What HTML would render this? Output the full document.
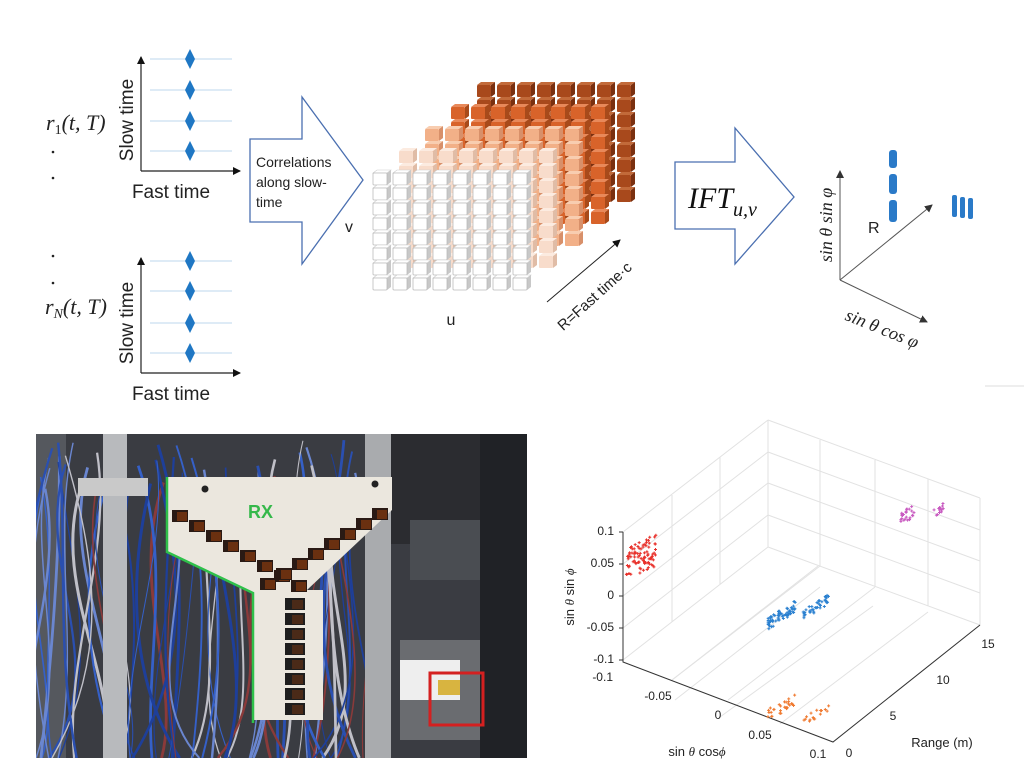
<!DOCTYPE html>
<html><head><meta charset="utf-8"><style>
html,body{margin:0;padding:0;background:#fff;width:1024px;height:784px;overflow:hidden}
svg{display:block}
text{font-family:"Liberation Sans",sans-serif}
.serif{font-family:"Liberation Serif","DejaVu Serif",serif;font-style:italic}
</style></head><body>
<svg id="s" width="1024" height="784" viewBox="0 0 1024 784" xmlns="http://www.w3.org/2000/svg">
<defs>
<marker id="ah" markerWidth="8" markerHeight="8" refX="7" refY="4" orient="auto" markerUnits="userSpaceOnUse"><path d="M0,0 L8,4 L0,8 z" fill="#111"/></marker>
<marker id="ag" markerWidth="8" markerHeight="8" refX="7" refY="4" orient="auto" markerUnits="userSpaceOnUse"><path d="M0,0 L8,4 L0,8 z" fill="#333"/></marker>
<clipPath id="pc"><rect x="36" y="434" width="491" height="324"/></clipPath>
</defs>

<g stroke="#bcd7ee" stroke-width="1">
<line x1="150" y1="59" x2="232" y2="59"/><line x1="150" y1="90" x2="232" y2="90"/><line x1="150" y1="121" x2="232" y2="121"/><line x1="150" y1="151" x2="232" y2="151"/>
<line x1="150" y1="261" x2="232" y2="261"/><line x1="150" y1="291" x2="232" y2="291"/><line x1="150" y1="323" x2="232" y2="323"/><line x1="150" y1="353" x2="232" y2="353"/>
</g>
<g fill="#1f77c4">
<path d="M190,49 L195,59 L190,69 L185,59z"/><path d="M190,80 L195,90 L190,100 L185,90z"/><path d="M190,111 L195,121 L190,131 L185,121z"/><path d="M190,141 L195,151 L190,161 L185,151z"/>
<path d="M190,251 L195,261 L190,271 L185,261z"/><path d="M190,281 L195,291 L190,301 L185,291z"/><path d="M190,313 L195,323 L190,333 L185,323z"/><path d="M190,343 L195,353 L190,363 L185,353z"/>
</g>
<g stroke="#222" stroke-width="1.2" fill="none">
<path d="M141,171 V57" marker-end="url(#ah)"/><path d="M141,171 H240" marker-end="url(#ah)"/>
<path d="M141,373 V258" marker-end="url(#ah)"/><path d="M141,373 H240" marker-end="url(#ah)"/>
</g>
<text x="127" y="120" font-size="19" fill="#222" text-anchor="middle" transform="rotate(-90 127 120)" dy="6">Slow time</text>
<text x="127" y="323" font-size="19" fill="#222" text-anchor="middle" transform="rotate(-90 127 323)" dy="6">Slow time</text>
<text x="171" y="198" font-size="19" fill="#222" text-anchor="middle">Fast time</text>
<text x="171" y="400" font-size="19" fill="#222" text-anchor="middle">Fast time</text>
<text x="46" y="130" font-size="22" class="serif" fill="#222">r<tspan font-size="14" dy="4" font-style="normal">1</tspan><tspan dy="-4">(t, T)</tspan></text>
<text x="45" y="314" font-size="22" class="serif" fill="#222">r<tspan font-size="14" dy="4">N</tspan><tspan dy="-4">(t, T)</tspan></text>
<g fill="#222"><circle cx="53" cy="152" r="1.3"/><circle cx="53" cy="178" r="1.3"/><circle cx="53" cy="256" r="1.3"/><circle cx="53" cy="283" r="1.3"/></g>

<polygon points="250,139 302,139 302,97 363,180 302,264 302,222 250,222" fill="#fff" stroke="#4a6fb0" stroke-width="1.3"/>
<text font-size="14" fill="#222"><tspan x="256" y="167">Correlations</tspan><tspan x="256" y="187">along slow-</tspan><tspan x="256" y="207">time</tspan></text>
<text x="345" y="232" font-size="16" fill="#222">v</text>

<g id="cube"></g>
<text x="451" y="325" font-size="16" fill="#222" text-anchor="middle">u</text>
<path d="M547,302 L620,240" stroke="#222" stroke-width="1" marker-end="url(#ah)"/>
<text x="598" y="300" font-size="15" fill="#222" text-anchor="middle" transform="rotate(-42 598 300)">R=Fast time·c</text>

<polygon points="675,162 735,162 735,128 794,197 735,264 735,229 675,229" fill="#fff" stroke="#4a6fb0" stroke-width="1.3"/>
<text x="688" y="208" font-size="30" class="serif" fill="#111">IFT<tspan font-size="20" dy="8">u,v</tspan></text>

<g stroke="#555" stroke-width="1" fill="none">
<path d="M840,280 V171" marker-end="url(#ag)"/><path d="M840,280 L932,205" marker-end="url(#ag)"/><path d="M840,280 L927,322" marker-end="url(#ag)"/>
</g>
<text x="826" y="225" font-size="18" class="serif" fill="#222" text-anchor="middle" transform="rotate(-90 826 225)" dy="6">sin θ sin φ</text>
<text x="868" y="233" font-size="16" fill="#222">R</text>
<text x="880" y="334" font-size="18" class="serif" fill="#222" text-anchor="middle" transform="rotate(22 880 334)">sin θ cos φ</text>
<g fill="#2a7ac8">
<rect x="889" y="150" width="8" height="18" rx="3"/><rect x="889" y="174" width="8" height="20" rx="3"/><rect x="889" y="200" width="8" height="22" rx="3"/>
<rect x="952" y="195" width="5" height="22" rx="2"/><rect x="960" y="197" width="5" height="21" rx="2"/><rect x="968" y="198" width="5" height="21" rx="2"/>
</g>
<line x1="985" y1="386" x2="1024" y2="386" stroke="#ddd"/>

<g clip-path="url(#pc)">
<rect x="36" y="434" width="491" height="324" fill="#3a3c42"/>
<rect x="36" y="434" width="30" height="324" fill="#55585e"/>
<rect x="370" y="434" width="157" height="110" fill="#2b2c30"/>
<rect x="410" y="520" width="110" height="60" fill="#4a4d52"/>
<rect x="400" y="640" width="127" height="100" fill="#6a6c70"/>
<rect x="480" y="434" width="47" height="324" fill="#202226"/>
<g id="cables" fill="none" stroke-width="2"></g>
<rect x="103" y="434" width="24" height="324" fill="#b8babd"/>
<rect x="365" y="434" width="26" height="324" fill="#a9abae"/>
<rect x="78" y="478" width="70" height="18" fill="#c9c9c9"/>
<polygon points="167,477 392,477 392,510 307,590 323,590 323,720 253,720 253,593 167,552" fill="#ebe7de"/>
<polyline points="167,477 167,552 253,593 253,723" fill="none" stroke="#2fc04a" stroke-width="2.5"/>
<circle cx="205" cy="489" r="3.5" fill="#222"/><circle cx="375" cy="484" r="3.5" fill="#222"/>
<text x="248" y="518" font-size="18" font-weight="bold" fill="#35b84a">RX</text>
<g id="horns"></g>
<rect x="400" y="660" width="60" height="40" fill="#eee"/>
<rect x="438" y="680" width="22" height="15" fill="#d8b440"/>
<rect x="430" y="673" width="53" height="52" fill="none" stroke="#d42020" stroke-width="3"/>
</g>

<g stroke="#e2e2e2" stroke-width="1" fill="none" id="grid">
<path d="M768,420 V547 M768,547 L980,625 M768,547 L623,660 M768,420 L623,532 M768,420 L980,498 M980,498 V625"/>
<path d="M820,440 V566 M875,460 V587 M928,479 V606 M720,457 V584 M672,495 V622"/>
<path d="M768,452 L980,530 M768,483 L980,561 M768,515 L980,593"/>
<path d="M768,452 L623,564 M768,483 L623,596 M768,515 L623,628"/>
<path d="M675,700 L820,587 M720,717 L873,606 M780,724 L928,612 M672,680 L818,566"/>
<path d="M820,566 L672,680 M875,587 L728,700"/>
</g>
<g stroke="#333" stroke-width="1" fill="none">
<path d="M623,532 V662 L833,742 L980,625"/>
<path d="M623,532 h-4 M623,564 h-4 M623,596 h-4 M623,628 h-4 M623,660 h-4"/>
</g>
<g font-size="12" fill="#222" text-anchor="end">
<text x="614" y="535">0.1</text><text x="614" y="567">0.05</text><text x="614" y="599">0</text><text x="614" y="631">-0.05</text><text x="614" y="663">-0.1</text>
<text x="613" y="681">-0.1</text>
</g>
<g font-size="12" fill="#222" text-anchor="middle">
<text x="658" y="700">-0.05</text><text x="718" y="719">0</text><text x="760" y="739">0.05</text><text x="818" y="758">0.1</text>
<text x="849" y="757">0</text><text x="893" y="720">5</text><text x="943" y="684">10</text><text x="988" y="648">15</text>
<text x="942" y="747" font-size="13">Range (m)</text>
<text x="697" y="756" font-size="13">sin <tspan class="serif">θ</tspan> cos<tspan class="serif">ϕ</tspan></text>
<text x="574" y="597" font-size="13" transform="rotate(-90 574 597)">sin <tspan class="serif">θ</tspan> sin <tspan class="serif">ϕ</tspan></text>
</g>
<g id="pts" stroke-width="1"></g>
</svg>
<script>
var NS="http://www.w3.org/2000/svg";
function el(t,a,p){var e=document.createElementNS(NS,t);for(var k in a)e.setAttribute(k,a[k]);p.appendChild(e);return e;}
var seed=7;function rnd(){seed=(seed*16807)%2147483647;return seed/2147483647;}
var cg=document.getElementById('cube');
var layers=[["#a8491c","#c26a3a","#7a3010"],["#d8632a","#e8895a","#a84a1a"],["#f2b088","#f8cdb0","#d8906a"],["#f8dccb","#fcebe0","#e0bca6"],["#ffffff","#ffffff","#c8c8c8"]];
for(var L=0;L<5;L++){var k=4-L;var ox=373+26*k,oy=173-22*k;var c=layers[L];
for(var r=0;r<8;r++)for(var q=0;q<8;q++){var x=ox+q*20,y=oy+r*15;
el('path',{d:'M'+(x+14)+','+y+' l4,-3 v12 l-4,3z',fill:c[2]},cg);
el('path',{d:'M'+x+','+y+' l4,-3 h14 l-4,3z',fill:c[1],stroke:L==4?'#ccc':'none','stroke-width':0.6},cg);
el('rect',{x:x,y:y,width:14,height:12,fill:c[0],stroke:L==4?'#bbb':'none','stroke-width':0.8,rx:1},cg);}}
var cb=document.getElementById('cables');
var cols=["#2a4fb0","#3560c8","#1e3f9a","#6a86d0","#8a3a3a","#c0c0c8"];
for(var i=0;i<70;i++){var x=40+rnd()*330,y=440+rnd()*60;var col=cols[Math.floor(rnd()*cols.length)];
el('path',{d:'M'+x+','+y+' C'+(x+rnd()*80-40)+','+(y+100)+' '+(x+rnd()*100-50)+','+(y+200)+' '+(x+rnd()*60-30)+',758',stroke:col,'stroke-width':1+rnd()*2},cb);}
var hg=document.getElementById('horns');
for(var i=0;i<8;i++){var x=172+i*17,y=510+i*10;el('rect',{x:x,y:y,width:16,height:12,fill:'#2a1a14'},hg);el('rect',{x:x+5,y:y+2,width:10,height:9,fill:'#6a3010'},hg);}
for(var i=0;i<8;i++){var x=372-i*16,y=508+i*10;el('rect',{x:x,y:y,width:16,height:12,fill:'#2a1a14'},hg);el('rect',{x:x+5,y:y+2,width:10,height:9,fill:'#6a3010'},hg);}
for(var i=0;i<8;i++){var x=285,y=598+i*15;el('rect',{x:x,y:y,width:20,height:12,fill:'#1e1e1e'},hg);el('rect',{x:x+7,y:y+2,width:11,height:9,fill:'#4a2a18'},hg);}
var pg=document.getElementById('pts');
function cl(x0,y0,w,h,n,col,sl){for(var i=0;i<n;i++){var a=rnd(),b=rnd();var x=x0+a*w,y=y0+b*h-a*sl;
el('path',{d:'M'+(x-1.5)+','+y+'h3M'+x+','+(y-1.5)+'v3',stroke:col},pg);}}
cl(626,548,30,32,90,"#e8302a",14);
cl(900,513,14,14,25,"#c85ac0",8);cl(934,507,10,10,14,"#c85ac0",6);
cl(768,618,28,12,70,"#2a80d0",18);cl(803,610,26,10,40,"#2a80d0",16);
cl(768,708,28,12,30,"#f07a30",14);cl(804,716,26,8,16,"#f07a30",12);
</script>
</body></html>
